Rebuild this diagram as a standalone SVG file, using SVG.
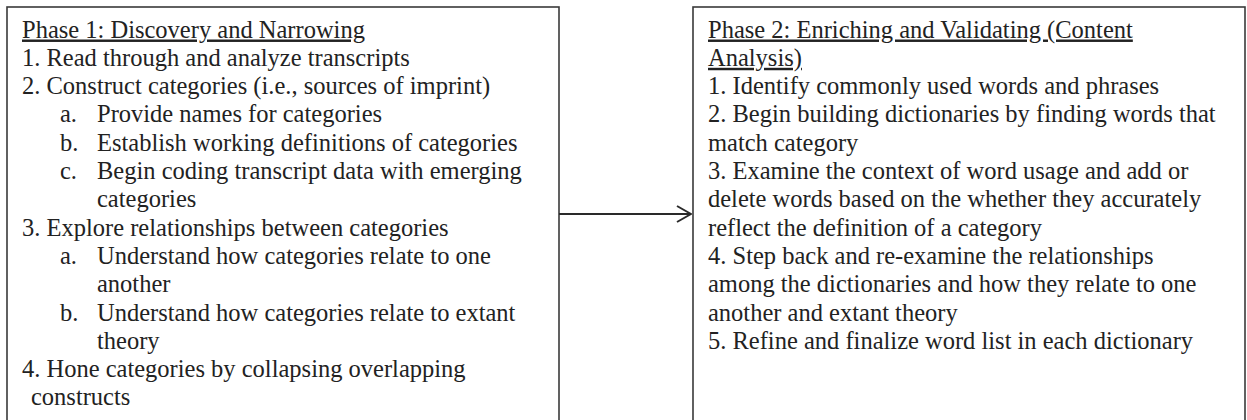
<svg xmlns="http://www.w3.org/2000/svg" width="1247" height="420" viewBox="0 0 1247 420">
  <style>
    .box { fill: #ffffff; stroke: #3a3a3a; stroke-width: 1.6; }
    .txt { font-family: "Liberation Serif", "Times New Roman", serif; font-size: 24.5px; fill: #222222; }
    .head { text-decoration: underline; }
    .conn { stroke: #2a2a2a; stroke-width: 2; fill: none; }
  </style>
  <defs>
    <marker id="open-arrow" viewBox="0 0 16 18" refX="15" refY="9" markerWidth="16" markerHeight="18" markerUnits="userSpaceOnUse" orient="auto">
      <path d="M1,1 L15,9 L1,17" fill="none" stroke="#2a2a2a" stroke-width="2"/>
    </marker>
  </defs>
  <rect width="1247" height="420" fill="#ffffff"/>

  <!-- Phase 1 box -->
  <g id="phase1">
    <rect class="box" x="7" y="7" width="552" height="430"/>
    <text class="txt head" x="22" y="37.5">Phase 1: Discovery and Narrowing</text>
    <text class="txt" x="22" y="65.8">1. Read through and analyze transcripts</text>
    <text class="txt" x="22" y="94.1">2. Construct categories (i.e., sources of imprint)</text>
    <text class="txt" x="60" y="122.4">a.</text>
    <text class="txt" x="97" y="122.4">Provide names for categories</text>
    <text class="txt" x="60" y="150.7">b.</text>
    <text class="txt" x="97" y="150.7">Establish working definitions of categories</text>
    <text class="txt" x="60" y="179">c.</text>
    <text class="txt" x="97" y="179">Begin coding transcript data with emerging</text>
    <text class="txt" x="97" y="207.3">categories</text>
    <text class="txt" x="22" y="235.6">3. Explore relationships between categories</text>
    <text class="txt" x="60" y="263.9">a.</text>
    <text class="txt" x="97" y="263.9">Understand how categories relate to one</text>
    <text class="txt" x="97" y="292.2">another</text>
    <text class="txt" x="60" y="320.5">b.</text>
    <text class="txt" x="97" y="320.5">Understand how categories relate to extant</text>
    <text class="txt" x="97" y="348.8">theory</text>
    <text class="txt" x="22" y="377.1">4. Hone categories by collapsing overlapping</text>
    <text class="txt" x="31" y="405.4">constructs</text>
  </g>

  <!-- Phase 2 box -->
  <g id="phase2">
    <rect class="box" x="693" y="7" width="552" height="430"/>
    <text class="txt head" x="708" y="37.5">Phase 2: Enriching and Validating (Content</text>
    <text class="txt head" x="708" y="65.8">Analysis)</text>
    <text class="txt" x="708" y="94.1">1. Identify commonly used words and phrases</text>
    <text class="txt" x="708" y="122.4">2. Begin building dictionaries by finding words that</text>
    <text class="txt" x="708" y="150.7">match category</text>
    <text class="txt" x="708" y="179">3. Examine the context of word usage and add or</text>
    <text class="txt" x="708" y="207.3">delete words based on the whether they accurately</text>
    <text class="txt" x="708" y="235.6">reflect the definition of a category</text>
    <text class="txt" x="708" y="263.9">4. Step back and re-examine the relationships</text>
    <text class="txt" x="708" y="292.2">among the dictionaries and how they relate to one</text>
    <text class="txt" x="708" y="320.5">another and extant theory</text>
    <text class="txt" x="708" y="348.8">5. Refine and finalize word list in each dictionary</text>
  </g>

  <!-- connectors -->
  <g id="connectors">
    <line class="conn" x1="559" y1="214" x2="691" y2="214" marker-end="url(#open-arrow)"/>
  </g>
</svg>
